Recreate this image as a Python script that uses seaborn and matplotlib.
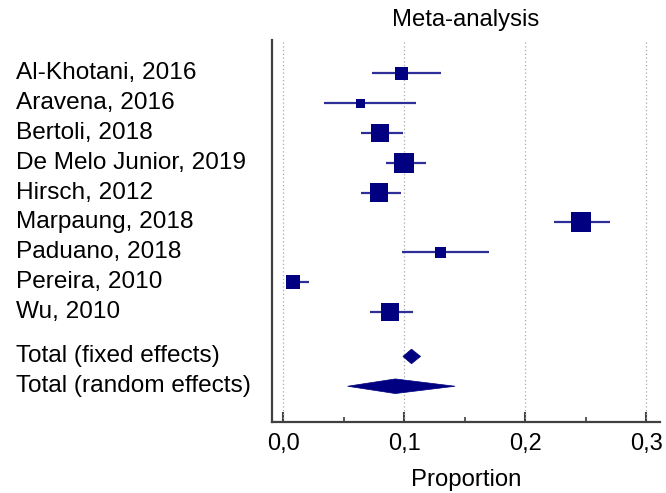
import matplotlib
matplotlib.use("Agg")
import matplotlib.pyplot as plt
import matplotlib.transforms as mtransforms
from matplotlib.ticker import MultipleLocator, FixedLocator
import seaborn as sns
import pandas as pd
import numpy as np

# ---- data ----
studies = ["Al-Khotani, 2016", "Aravena, 2016", "Bertoli, 2018", "De Melo Junior, 2019",
           "Hirsch, 2012", "Marpaung, 2018", "Paduano, 2018", "Pereira, 2010", "Wu, 2010"]
proportion = [0.098, 0.064, 0.080, 0.100, 0.079, 0.246, 0.130, 0.008, 0.088]
ci_low = [0.073, 0.034, 0.064, 0.085, 0.064, 0.224, 0.098, 0.002, 0.072]
ci_high = [0.130, 0.110, 0.099, 0.118, 0.0975, 0.270, 0.170, 0.021, 0.107]
weight = [7.5, 3.4, 13.7, 17.4, 14.2, 17.4, 5.1, 7.5, 13.7]

pooled_labels = ["Total (fixed effects)", "Total (random effects)"]
pooled_est = [0.106, 0.0926]
pooled_low = [0.0989, 0.0532]
pooled_high = [0.1135, 0.142]

xtick_values = [0.0, 0.1, 0.2, 0.3]
xtick_labels = ["0,0", "0,1", "0,2", "0,3"]
title = "Meta-analysis"
xlabel = "Proportion"

# ---- style ----
sns.set_style("white")
plt.rcParams["font.family"] = ["Liberation Sans", "DejaVu Sans"]
plt.rcParams["text.color"] = "black"
plt.rcParams["axes.labelcolor"] = "black"
plt.rcParams["xtick.color"] = "black"

DPI = 100
fig = plt.figure(figsize=(6.66, 4.93), dpi=DPI)
ax = fig.add_axes([272 / 666, (493 - 422) / 493, 388 / 666, 382 / 493])

navy = "#000080"
line_col = "#2e2e98"

n = len(studies)
ys = list(range(n))
pooled_y = [n + 0.5, n + 1.5]

df = pd.DataFrame({"study": studies, "p": proportion, "lo": ci_low, "hi": ci_high,
                   "w": weight, "y": ys})

# CI lines
ax.hlines(df["y"], df["lo"], df["hi"], color=line_col, lw=1.6, zorder=2)

# squares sized by weight (area proportional to weight)
px2pt = 72 / DPI
k = 2363 / 100 * px2pt ** 2
sns.scatterplot(data=df, x="p", y="y", size="w",
                sizes=(min(weight) * k, max(weight) * k),
                marker="s", color=navy, edgecolor=navy, linewidth=0,
                legend=False, zorder=3, ax=ax)

# pooled diamonds
half_h = 0.245
for est, lo, hi, yy in zip(pooled_est, pooled_low, pooled_high, pooled_y):
    poly = plt.Polygon([(lo, yy), (est, yy - half_h), (hi, yy), (est, yy + half_h)],
                       closed=True, facecolor=navy, edgecolor=navy, lw=0.5, zorder=3)
    ax.add_patch(poly)

# axes limits
ax.set_xlim(-0.0093, 0.3114)
ax.set_ylim(11.70, -1.12)

# labels on left
trans = mtransforms.blended_transform_factory(fig.transFigure, ax.transData)
for lab, yy in zip(studies + pooled_labels, ys + pooled_y):
    ax.text(16 / 666, yy, lab, transform=trans, ha="left", va="center",
            fontsize=17.6, color="black")

# ticks
ax.xaxis.set_major_locator(FixedLocator(xtick_values))
ax.set_xticklabels(xtick_labels)
ax.xaxis.set_minor_locator(MultipleLocator(0.05))
ax.tick_params(axis="x", which="major", direction="in", length=7, width=1.5,
               color="#404040", labelcolor="black", labelsize=17, pad=8, bottom=True)
ax.tick_params(axis="x", which="minor", direction="in", length=3.5, width=1.2,
               color="#404040", bottom=True)
ax.set_yticks([])

# grid
for xv in xtick_values:
    ax.axvline(xv, color="#a8a8a8", lw=0.9, ls=(0, (1, 2)), zorder=1)

# spines
sns.despine(ax=ax, top=True, right=True)
for s in ["left", "bottom"]:
    ax.spines[s].set_color("#404040")
    ax.spines[s].set_linewidth(1.6)

ax.set_title(title, fontsize=17.2, pad=10, color="black")
ax.set_xlabel(xlabel, fontsize=17.2, labelpad=10, color="black")
ax.set_ylabel("")

fig.savefig("out.png", dpi=DPI)
